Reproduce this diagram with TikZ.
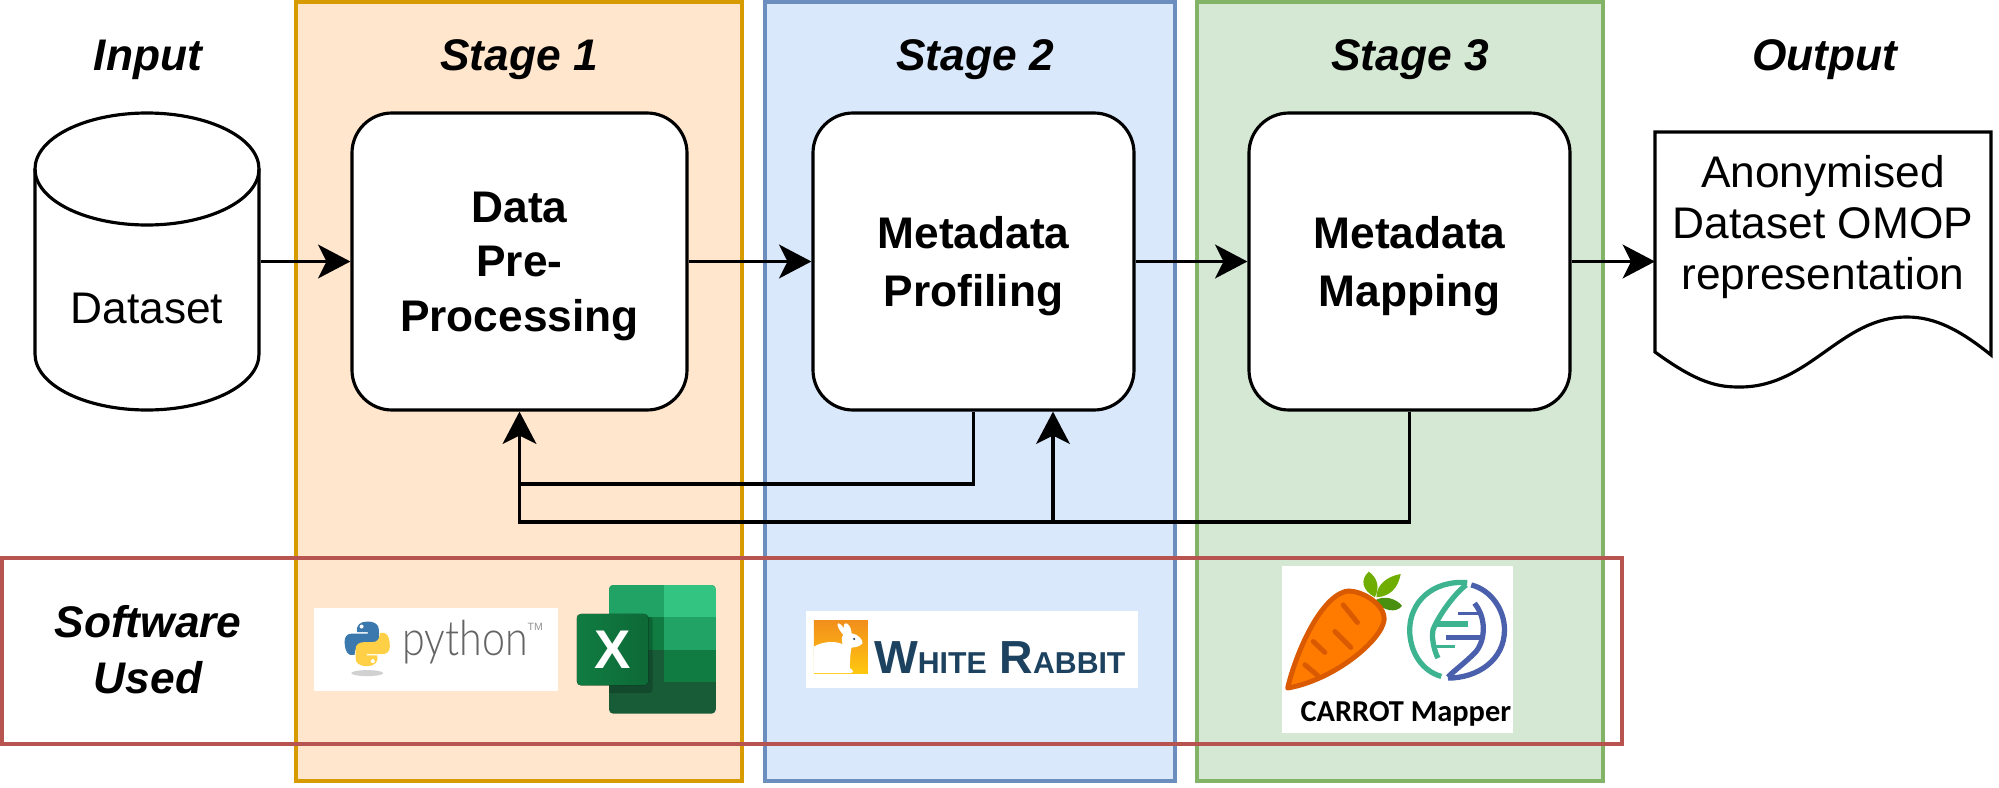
\documentclass[tikz,border=0pt]{standalone}
\usepackage{fontspec}
\setmainfont{Liberation Sans}
\newfontfamily\pyfont{Lato Light}
\newfontfamily\carrotfont{Carlito}
\usetikzlibrary{arrows.meta}
\definecolor{orangeFill}{HTML}{FFE6CC}
\definecolor{orangeLine}{HTML}{D79B00}
\definecolor{blueFill}{HTML}{DAE8FC}
\definecolor{blueLine}{HTML}{6C8EBF}
\definecolor{greenFill}{HTML}{D5E8D4}
\definecolor{greenLine}{HTML}{82B366}
\definecolor{redLine}{HTML}{B85450}
\definecolor{pyBlue}{HTML}{3A78AE}
\definecolor{pyYellow}{HTML}{FFD045}
\definecolor{pyGrey}{HTML}{646464}
\definecolor{xlA}{HTML}{21A366}
\definecolor{xlB}{HTML}{33C481}
\definecolor{xlC}{HTML}{107C41}
\definecolor{xlD}{HTML}{185C37}
\definecolor{rabbitTop}{HTML}{F28E1C}
\definecolor{rabbitLow}{HTML}{FFC80F}
\definecolor{rabbitText}{HTML}{1D425F}
\definecolor{carrotBody}{HTML}{FF7B00}
\definecolor{carrotLine}{HTML}{D95A00}
\definecolor{leafA}{HTML}{6FAE00}
\definecolor{leafB}{HTML}{4A9010}
\definecolor{dnaTeal}{HTML}{3DB48F}
\definecolor{dnaBlue}{HTML}{4A60AC}
\tikzstyle{pipeline}=[line width=0.9pt]
\tikzstyle{stagebox}=[draw, line width=1.1pt, minimum height=7.79cm, inner sep=0pt]
\tikzstyle{softbox}=[draw=redLine, line width=1.1pt, minimum width=16.2cm, minimum height=1.86cm, inner sep=0pt]
\tikzstyle{heading}=[anchor=base, align=center, font=\fontsize{12.6}{15.8}\selectfont\bfseries\itshape]
\tikzstyle{procbox}=[draw, fill=white, rounded corners=0.4cm, minimum height=2.97cm, inner sep=0pt, text depth=0pt, align=center, font=\fontsize{12.6}{15.5}\selectfont\bfseries]
\tikzstyle{plain}=[align=center, font=\fontsize{12.6}{14.6}\selectfont]
\tikzstyle{dbase}=[minimum width=2.24cm, minimum height=2.97cm, inner sep=0pt]
\tikzstyle{edge}=[-{Stealth[length=9.2pt,width=9.6pt,inset=2.4pt]}]
\tikzstyle{logobox}=[fill=white]
\newcommand{\pySnake}{(130,172) .. controls (125,150) and (140,140) .. (160,140) .. controls (185,140) and (195,150) .. (195,165) -- (195,190) .. controls (195,205) and (185,212) .. (170,212) -- (145,212) .. controls (130,212) and (122,222) .. (122,240) -- (108,240) .. controls (95,235) and (92,215) .. (92,200) .. controls (92,185) and (100,176) .. (115,176) -- (162,176) -- (162,172) -- cycle}
\begin{document}
\begin{tikzpicture}[pipeline]
\useasboundingbox (0,0) rectangle (19.99,7.87);

\node[stagebox, fill=orangeFill, draw=orangeLine, minimum width=4.46cm] (stage1) at (5.19,3.955) {};
\node[stagebox, fill=blueFill, draw=blueLine, minimum width=4.10cm] (stage2) at (9.70,3.955) {};
\node[stagebox, fill=greenFill, draw=greenLine, minimum width=4.06cm] (stage3) at (14.00,3.955) {};

\node[heading] (hinput) at (1.48,7.17) {Input};
\node[heading] (hstage1) at (5.19,7.17) {Stage 1};
\node[heading] (hstage2) at (9.75,7.17) {Stage 2};
\node[heading] (hstage3) at (14.10,7.17) {Stage 3};
\node[heading] (houtput) at (18.25,7.17) {Output};
\node[heading] (hsoftware) at (1.48,0.94) {Software\\Used};

\draw[fill=white] (0.35,6.18) arc (180:0:1.12 and 0.56) -- (2.59,4.33) arc (0:-180:1.12 and 0.56) -- cycle;
\draw (0.35,6.18) arc (180:360:1.12 and 0.56);
\node[dbase] (dataset) at (1.47,5.255) {};
\node[plain] (dslabel) at (1.47,4.79) {Dataset};

\node[procbox, minimum width=3.35cm] (box1) at (5.195,5.255) {Data\\Pre-\\Processing};
\node[procbox, minimum width=3.21cm] (box2) at (9.735,5.255) {Metadata\\[0.8pt]Profiling};
\node[procbox, minimum width=3.21cm] (box3) at (14.095,5.255) {Metadata\\[0.8pt]Mapping};

\draw[fill=white] (16.55,6.55) -- (19.91,6.55) -- (19.91,4.32) .. controls (19.6,4.57) and (19.35,4.70) .. (19.07,4.70) .. controls (18.4,4.70) and (18.1,4.00) .. (17.40,4.00) .. controls (17.2,4.00) and (17.0,4.02) .. (16.55,4.35) -- cycle;
\node[plain] (doc) at (18.23,5.60) {Anonymised\\Dataset OMOP\\representation};
\coordinate (docin) at (16.55,5.255);

\draw[edge] (dataset.east) -- (box1.west);
\draw[edge] (box1.east) -- (box2.west);
\draw[edge] (box2.east) -- (box3.west);
\draw[edge] (box3.east) -- (docin);

%The feedback lines
\coordinate (fbA) at (5.195,3.03);
\coordinate (fbB) at (5.195,2.65);
\coordinate (fbC) at (10.53,2.65);
\draw (box2.south) |- (fbA);
\draw[edge] (box3.south) |- (fbB) -- (box1.south);
\draw[edge] (fbC) -- (box2.south -| fbC);

%Python and Excel
\fill[logobox] (3.14,1.79) rectangle (5.58,0.96);
\begin{scope}[shift={(3.14,2.12)},x=0.003333cm,y=-0.003333cm]
\fill[black!18] (160,295) ellipse (48 and 9);
\fill[pyBlue] \pySnake;
\fill[white] (143,155) circle (6);
\begin{scope}[rotate around={180:(160,207)}]
\fill[pyYellow] \pySnake;
\fill[white] (143,155) circle (6);
\end{scope}
\node[anchor=base west, inner sep=0pt, text=pyGrey, xscale=0.85, transform shape, font=\fontsize{13.8}{15}\pyfont] (pytext) at (262,243) {python};
\node[inner sep=0pt, text=pyGrey!70, font=\fontsize{3}{3}\selectfont] (pytm) at (665,157) {TM};

\begin{scope}
\clip[rounded corners=1.2pt] (887,30) rectangle (1208,417);
\fill[xlD] (887,30) rectangle (1208,417);
\fill[xlA] (887,30) rectangle (1052,127);
\fill[xlB] (1052,30) rectangle (1208,127);
\fill[xlC] (887,127) rectangle (1052,224);
\fill[xlA] (1052,127) rectangle (1208,224);
\fill[xlC] (1052,224) rectangle (1208,321);
\fill[black, opacity=0.2, rounded corners=1pt] (800,125) rectangle (1018,355);
\end{scope}
\fill[left color=xlC, right color=xlC!85!black, rounded corners=1.2pt] (790,117) rectangle (1005,332);
\node[inner sep=0pt, text=white, font=\fontsize{15.5}{16}\selectfont\bfseries] (xltext) at (897,224) {X};
\end{scope}

%White Rabbit
\fill[logobox] (8.06,1.76) rectangle (11.38,0.99);
\begin{scope}[shift={(8.00,1.82)},x=0.003333cm,y=-0.003333cm]
\shade[top color=rabbitTop, bottom color=rabbitLow] (42,46) rectangle (204,207);
\fill[white] (42,205) -- (42,125) .. controls (70,108) and (110,108) .. (128,118) .. controls (125,105) and (125,95) .. (130,90) .. controls (118,75) and (108,60) .. (115,55) .. controls (122,55) and (128,65) .. (132,70) .. controls (130,58) and (135,52) .. (140,55) .. controls (150,60) and (155,75) .. (155,85) .. controls (175,88) and (190,105) .. (188,115) .. controls (180,125) and (165,128) .. (155,128) .. controls (150,150) and (150,180) .. (150,190) .. controls (162,195) and (162,205) .. (150,205) -- cycle;
\fill[rabbitText] (163,102) circle (3.5);
\node[anchor=base west, inner sep=0pt, text=rabbitText, font=\bfseries\fontsize{13.2}{14}\selectfont] (wrtext) at (218,205) {W{\fontsize{8.6}{9}\selectfont HITE} R{\fontsize{8.6}{9}\selectfont ABBIT}};
\end{scope}

%Carrot Mapper
\fill[logobox] (12.82,2.21) rectangle (15.13,0.54);
\begin{scope}[shift={(12.75,2.27)},x=0.003333cm,y=-0.003333cm]
\fill[leafA] (282,35) .. controls (255,60) and (262,90) .. (300,112) .. controls (315,85) and (310,55) .. (282,35) -- cycle;
\fill[leafA] (378,42) .. controls (335,50) and (305,75) .. (305,112) .. controls (345,110) and (370,85) .. (378,42) -- cycle;
\fill[leafB] (300,122) .. controls (325,105) and (365,115) .. (382,138) .. controls (365,160) and (325,155) .. (300,122) -- cycle;
\draw[fill=carrotBody, draw=carrotLine, line width=1.4pt, line join=round] (38,385) .. controls (60,290) and (130,120) .. (210,95) .. controls (250,85) and (332,130) .. (328,180) .. controls (322,240) and (180,360) .. (38,385) -- cycle;
\draw[carrotLine, line width=1.4pt, line cap=round] (205,135) -- (248,188);
\draw[carrotLine, line width=1.4pt, line cap=round] (180,215) -- (228,263);
\draw[carrotLine, line width=1.4pt, line cap=round] (115,245) -- (150,278);
\draw[carrotLine, line width=1.4pt, line cap=round] (90,315) -- (128,347);
\draw[dnaTeal, line width=1.5pt] (578,68) .. controls (470,60) and (405,130) .. (405,210) .. controls (405,280) and (445,335) .. (500,350);
\draw[dnaTeal, line width=1.5pt] (575,75) .. controls (540,100) and (490,170) .. (475,210) .. controls (470,240) and (480,275) .. (490,295);
\draw[dnaTeal, line width=1.5pt] (478,192) -- (580,192);
\draw[dnaTeal, line width=0.9pt] (478,260) -- (540,260);
\draw[dnaBlue, line width=1.5pt] (590,75) .. controls (650,90) and (690,150) .. (690,210) .. controls (690,300) and (610,355) .. (520,355);
\draw[dnaBlue, line width=1.5pt] (600,130) .. controls (640,180) and (630,250) .. (600,280) .. controls (570,310) and (530,340) .. (520,352);
\draw[dnaBlue, line width=0.9pt] (550,160) -- (620,160);
\draw[dnaBlue, line width=1.5pt] (515,232) -- (625,232);
\node[anchor=base west, inner sep=0pt, font=\carrotfont\bfseries\fontsize{8.65}{10}\selectfont] (cmtext) at (72,485) {CARROT Mapper};
\end{scope}

\node[softbox] (swrow) at (8.12,1.36) {};
\end{tikzpicture}
\end{document}
